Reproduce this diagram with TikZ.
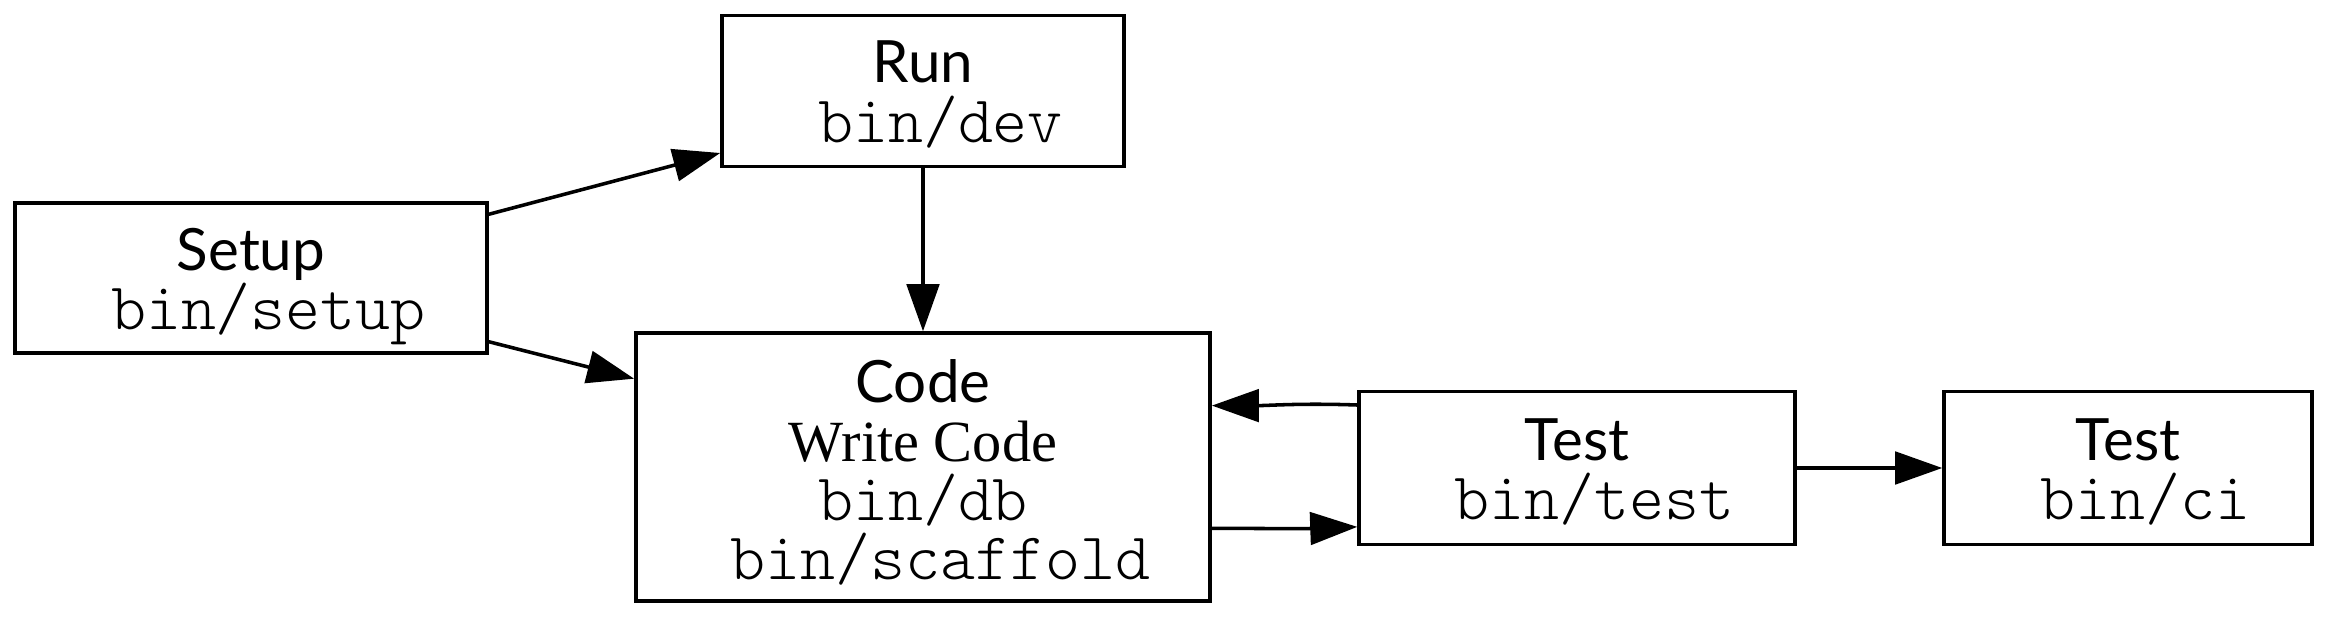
\documentclass[tikz,border=0pt]{standalone}
\usepackage{fontspec}
\setmainfont{Liberation Serif}
\setmonofont{lmmonolt10-regular.otf}
\newfontfamily\labfont{Lato}
\usetikzlibrary{arrows.meta,calc}
\begin{document}
\begin{tikzpicture}[x=0.24pt,y=-0.24pt,
  box/.style={draw,line width=0.85pt,inner sep=0pt},
  ttl/.style={anchor=base,inner sep=0pt,font=\labfont\fontsize{14pt}{14pt}\selectfont},
  wrt/.style={anchor=base,inner sep=0pt,font=\rmfamily\fontsize{14pt}{14pt}\selectfont},
  cmd/.style={anchor=base,inner sep=0pt,font=\ttfamily\fontsize{16pt}{16pt}\selectfont},
  arr/.style={line width=0.85pt,-{Triangle[length=11.3pt,width=7.8pt]}}]
\useasboundingbox (0,0) rectangle (2328,617);
% boxes
\node[box,minimum width=113.3pt,minimum height=36pt] (setup) at (251,278) {};
\node[box,minimum width=96.5pt,minimum height=36.2pt] (run) at (923,91) {};
\node[box,minimum width=137.8pt,minimum height=64.3pt] (code) at (923,467) {};
\node[box,minimum width=104.6pt,minimum height=36.7pt] (test) at (1577,468) {};
\node[box,minimum width=88.3pt,minimum height=36.7pt] (ci) at (2128,468) {};
% texts
\node[ttl] (setupA) at ($(setup.center)+(0,-8)$) {Setup};
\node[cmd] (setupB) at ($(setup.center)+(0,51)$) {\ bin/setup};
\node[ttl] (runA) at ($(run.center)+(0,-8)$) {Run};
\node[cmd] (runB) at ($(run.center)+(0,51)$) {\ bin/dev};
\node[ttl] (codeA) at ($(code.center)+(0,-65)$) {Code};
\node[wrt] (codeB) at ($(code.center)+(0,-6)$) {Write Code};
\node[cmd] (codeC) at ($(code.center)+(0,53)$) {bin/db};
\node[cmd] (codeD) at ($(code.center)+(0,112)$) {\ bin/scaffold};
\node[ttl] (testA) at ($(test.center)+(0,-8)$) {Test};
\node[cmd] (testB) at ($(test.center)+(0,51)$) {\ bin/test};
\node[ttl] (ciA) at ($(ci.center)+(0,-8)$) {Test};
\node[cmd] (ciB) at ($(ci.center)+(0,51)$) {\ bin/ci};
% connectors
\draw[arr] (setup.15.4) -- (run.197);
\draw[arr] (setup.-15.6) -- (code.163.7);
\draw[arr] (run.south) -- (code.north);
\draw[arr] (test.164.4) to[out=178,in=0] (code.12.3);
\draw[arr] (code.-12) to[out=0,in=182] (test.-165.2);
\draw[arr] (test.east) -- (ci.west);
\end{tikzpicture}
\end{document}
